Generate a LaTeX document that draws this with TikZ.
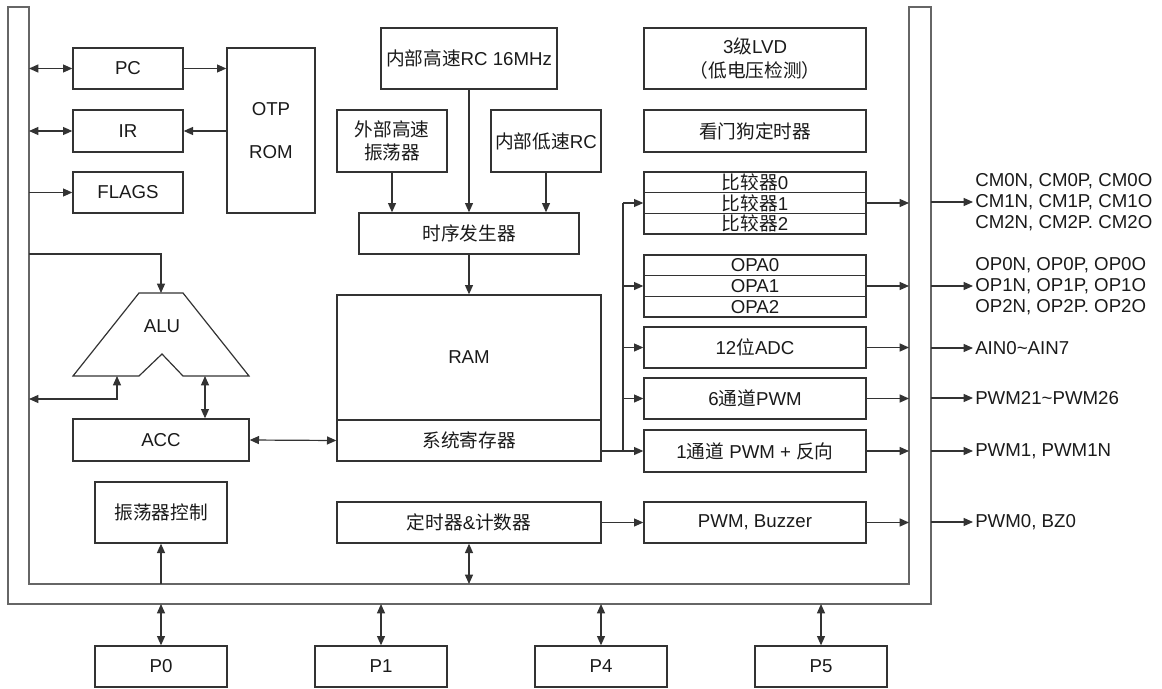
\documentclass[tikz,border=0pt]{standalone}
\usepackage{fontspec}
\setmainfont{Liberation Sans}
\newfontfamily\cjk{Noto Sans CJK SC}
\usetikzlibrary{arrows.meta}
\definecolor{busc}{HTML}{666666}
\definecolor{boxc}{HTML}{333333}
\definecolor{txt}{HTML}{1A1A1A}
\newcommand{\zh}[1]{{\cjk #1}}
\begin{document}
\begin{tikzpicture}[x=0.75pt,y=-0.75pt,
  every node/.style={font=\fontsize{14pt}{15.75pt}\selectfont, text=txt},
  sz/.style 2 args={minimum width=#1*0.75pt, minimum height=#2*0.75pt},
  box/.style={draw=boxc, line width=1pt, inner sep=0pt, align=center},
  busline/.style={draw=busc, line width=1.5pt},
  conn/.style={draw=boxc, line width=0.9pt},
  arr/.style={conn, -{Triangle[length=7pt,width=6pt]}},
  barr/.style={conn, {Triangle[length=7pt,width=6pt]}-{Triangle[length=7pt,width=6pt]}},
  lbl/.style={anchor=west, align=left, inner sep=1.5pt}]
\useasboundingbox (0,0) rectangle (1162,688);

% bus frame
\draw[busline] (8,7) -- (8,604) -- (931,604) -- (931,7) -- (909,7) -- (909,584) -- (29,584) -- (29,7) -- cycle;

% left column
\node[box, sz={110}{41}] (pc) at (128,68.5) {PC};
\node[box, sz={110}{42}] (ir) at (128,131) {IR};
\node[box, sz={110}{41}] (flags) at (128,192.5) {FLAGS};
\node[box, sz={88}{165}] (rom) at (271,130.5) {OTP\\[16pt]ROM};

% clocks
\node[box, sz={176}{61}] (rc16) at (469,58.5) {\zh{内部高速}RC 16MHz};
\node[box, sz={110}{62}] (ext) at (392,141) {\zh{外部高速}\\[2pt]\zh{振荡器}};
\node[box, sz={110}{62}] (lrc) at (546,141) {\zh{内部低速}RC};
\node[box, sz={220}{41}] (seq) at (469,233.5) {\zh{时序发生器}};
\node[box, sz={264}{125}] (ram) at (469,357.5) {RAM};
\node[box, sz={264}{41}] (sysreg) at (469,440.5) {\zh{系统寄存器}};
\node[box, sz={264}{41}] (tmr) at (469,522.5) {\zh{定时器}\&\zh{计数器}};

% right column
\node[box, sz={222}{61}] (lvd) at (755,58.5) {3\zh{级}LVD\\[2pt]\zh{（低电压检测）}};
\node[box, sz={222}{42}] (wdt) at (755,131) {\zh{看门狗定时器}};
\node[box, sz={222}{20.7}] (cmp0) at (755,182.3) {\zh{比较器}0};
\node[box, sz={222}{20.7}] (cmp1) at (755,203) {\zh{比较器}1};
\node[box, sz={222}{20.7}] (cmp2) at (755,223.7) {\zh{比较器}2};
\node[box, sz={222}{20.7}] (opa0) at (755,265.3) {OPA0};
\node[box, sz={222}{20.7}] (opa1) at (755,286) {OPA1};
\node[box, sz={222}{20.7}] (opa2) at (755,306.7) {OPA2};
\node[box, sz={222}{41}] (adc) at (755,347.5) {12\zh{位}ADC};
\node[box, sz={222}{41}] (pwm6) at (755,398.5) {6\zh{通道}PWM};
\node[box, sz={222}{42}] (pwm1) at (755,451) {1\zh{通道} PWM + \zh{反向}};
\node[box, sz={222}{41}] (buz) at (755,522.5) {PWM, Buzzer};

% ALU / ACC
\draw[conn] (73,376) -- (139,293) -- (183,293) -- (249,376) -- (183,376) -- (162,354) -- (139,376) -- cycle;
\node (alu) at (162,326) {ALU};
\coordinate (alut) at (161,293);
\coordinate (alubl) at (117,376);
\coordinate (alubr) at (205,376);
\node[box, sz={176}{42}] (acc) at (161,440) {ACC};
\node[box, sz={132}{61}] (osc) at (161,512.5) {\zh{振荡器控制}};

% ports
\node[box, sz={132}{41}] (p0) at (161,666.5) {P0};
\node[box, sz={132}{41}] (p1) at (381,666.5) {P1};
\node[box, sz={132}{41}] (p4) at (601,666.5) {P4};
\node[box, sz={132}{41}] (p5) at (821,666.5) {P5};

% bus coordinates
\coordinate (bl) at (29,0);
\coordinate (br) at (909,0);
\coordinate (obr) at (931,0);
\coordinate (bb) at (0,584);
\coordinate (obb) at (0,604);
\coordinate (busalu) at (29,254);
\coordinate (busout) at (29,399);

% left connectors
\draw[barr] (pc.west -| bl) -- (pc.west);
\draw[barr] (ir.west -| bl) -- (ir.west);
\draw[arr] (flags.west -| bl) -- (flags.west);
\draw[arr] (pc.east) -- (pc.east -| rom.west);
\draw[arr] (ir.east -| rom.west) -- (ir.east);
\draw[arr] (busalu) -| (alut);
\draw[barr] (alubl) |- (busout);
\draw[barr] (alubr) -- (alubr |- acc.north);
\draw[barr] (acc.east) -- (sysreg.west);
\draw[arr] (osc.south |- bb) -- (osc.south);

% clock connectors
\draw[arr] (ext.south) -- (ext.south |- seq.north);
\draw[arr] (rc16.south) -- (rc16.south |- seq.north);
\draw[arr] (lrc.south) -- (lrc.south |- seq.north);
\draw[arr] (seq.south) -- (ram.north);

% distribution
\coordinate (dv) at (623,451);
\draw[arr] (sysreg.east |- pwm1.west) -- (pwm1.west);
\draw[conn] (dv) -- (dv |- cmp1.west);
\draw[arr] (dv |- cmp1.west) -- (cmp1.west);
\draw[arr] (dv |- opa1.west) -- (opa1.west);
\draw[arr] (dv |- adc.west) -- (adc.west);
\draw[arr] (dv |- pwm6.west) -- (pwm6.west);
\draw[arr] (tmr.east) -- (buz.west);
\draw[barr] (tmr.south) -- (tmr.south |- bb);

% outputs to bus
\foreach \n in {cmp1,opa1,adc,pwm6,pwm1,buz}
  \draw[arr] (\n.east) -- (\n.east -| br);

% external labels
\node[lbl] (lcm) at (973,202) {CM0N, CM0P, CM0O\\CM1N, CM1P, CM1O\\CM2N, CM2P. CM2O};
\node[lbl] (lop) at (973,286) {OP0N, OP0P, OP0O\\OP1N, OP1P, OP1O\\OP2N, OP2P. OP2O};
\node[lbl] (lain) at (973,348) {AIN0\textasciitilde AIN7};
\node[lbl] (lpwm2) at (973,398) {PWM21\textasciitilde PWM26};
\node[lbl] (lpwm1) at (973,451) {PWM1, PWM1N};
\node[lbl] (lpwm0) at (973,522) {PWM0, BZ0};
\foreach \n in {lcm,lop,lain,lpwm2,lpwm1,lpwm0}
  \draw[arr] (\n.west -| obr) -- (\n.west);

% port connectors
\draw[barr] (p0.north |- obb) -- (p0.north);
\draw[barr] (p1.north |- obb) -- (p1.north);
\draw[barr] (p4.north |- obb) -- (p4.north);
\draw[barr] (p5.north |- obb) -- (p5.north);
\end{tikzpicture}
\end{document}
